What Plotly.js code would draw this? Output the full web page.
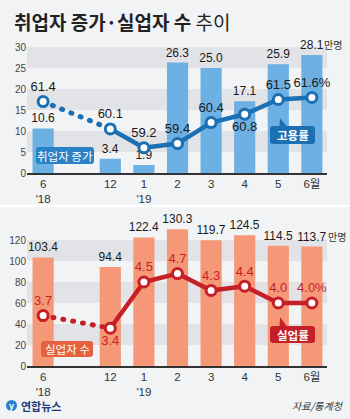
<!DOCTYPE html>
<html><head><meta charset="utf-8">
<script src="https://cdn.plot.ly/plotly-3.0.1.min.js"></script>
<style>
html,body{margin:0;padding:0;background:#f2f3f5;}
#chart{width:350px;height:419px;}
.scatterlayer .js-line{stroke-linecap:round;stroke-linejoin:round;}
</style>
</head><body>
<div id="chart"></div>
<script>
// ---- data ----
const xPos = [0, 2, 3, 4, 5, 6, 7, 8];
const tickLabels = ["6<br>'18", "12", "1<br>'19", "2", "3", "4", "5", "6월"];
const employedIncrease = [10.6, 3.4, 1.9, 26.3, 25.0, 17.1, 25.9, 28.1];   // 만명
const employmentRate = [61.4, 60.1, 59.2, 59.4, 60.4, 60.8, 61.5, 61.6];   // %
const unemployed = [103.4, 94.4, 122.4, 130.3, 119.7, 124.5, 114.5, 113.7]; // 만명
const unemploymentRate = [3.7, 3.4, 4.5, 4.7, 4.3, 4.4, 4.0, 4.0];         // %
const topTicks = [0, 5, 10, 15, 20, 25, 30];
const bottomTicks = [0, 20, 40, 60, 80, 100, 120];

const W = 350, H = 419;
const fx = v => v / W, fy = v => 1 - v / H;
const NUM = "Liberation Sans, Arial, Noto Sans CJK KR, sans-serif";
const KR = "Noto Sans CJK KR, sans-serif";

const BAR_BLUE = "#6db0e3", LINE_BLUE = "#1b6fb3", BOX_BLUE = "#2a82c6";
const BAR_ORANGE = "#f59877", LINE_RED = "#c71f28", BOX_ORANGE = "#e5613d", BOX_RED = "#c5202a";

const fmt = vals => vals.map(v => v.toFixed(1));
const barTextTop = fmt(employedIncrease);
const barTextBot = fmt(unemployed);
const rateTextTop = employmentRate.map((v, i) => v.toFixed(1) + (i === employmentRate.length - 1 ? "%" : ""));
const rateTextBot = unemploymentRate.map((v, i) => v.toFixed(1) + (i === unemploymentRate.length - 1 ? "%" : ""));
const last = xPos.length - 1;

const traces = [
  {type: "bar", x: xPos, y: employedIncrease, xaxis: "x", yaxis: "y", width: 0.63,
   marker: {color: BAR_BLUE}, text: barTextTop, textposition: "outside", cliponaxis: false,
   constraintext: "none", textfont: {family: NUM, size: 12, color: "#1a1a1a"}, hoverinfo: "skip"},
  {type: "scatter", mode: "lines", x: xPos.slice(0, 2), y: employmentRate.slice(0, 2), xaxis: "x", yaxis: "y2",
   line: {color: LINE_BLUE, width: 5, dash: "1px,9px"}, hoverinfo: "skip"},
  {type: "scatter", mode: "lines", x: xPos.slice(1), y: employmentRate.slice(1), xaxis: "x", yaxis: "y2",
   line: {color: LINE_BLUE, width: 4.5}, hoverinfo: "skip"},
  {type: "scatter", mode: "markers+text", x: xPos, y: employmentRate, xaxis: "x", yaxis: "y2",
   marker: {size: 10, color: "#ffffff", line: {color: LINE_BLUE, width: 3}},
   text: rateTextTop, cliponaxis: false,
   textposition: ["top center","top center","top center","top center","top center","bottom center","top center","top center"],
   textfont: {family: NUM, size: 13, color: "#1a1a1a"}, hoverinfo: "skip"},

  {type: "bar", x: xPos, y: unemployed, xaxis: "x2", yaxis: "y3", width: 0.63,
   marker: {color: BAR_ORANGE}, text: barTextBot, textposition: "outside", cliponaxis: false,
   constraintext: "none", textfont: {family: NUM, size: 12, color: "#1a1a1a"}, hoverinfo: "skip"},
  {type: "scatter", mode: "lines", x: xPos.slice(0, 2), y: unemploymentRate.slice(0, 2), xaxis: "x2", yaxis: "y4",
   line: {color: LINE_RED, width: 5, dash: "1px,9px"}, hoverinfo: "skip"},
  {type: "scatter", mode: "lines", x: xPos.slice(1), y: unemploymentRate.slice(1), xaxis: "x2", yaxis: "y4",
   line: {color: LINE_RED, width: 4.5}, hoverinfo: "skip"},
  {type: "scatter", mode: "markers+text", x: xPos, y: unemploymentRate, xaxis: "x2", yaxis: "y4",
   marker: {size: 10, color: "#ffffff", line: {color: LINE_RED, width: 3}},
   text: rateTextBot, cliponaxis: false,
   textposition: ["top center","bottom center","top center","top center","top center","top center","top center","top center"],
   textfont: {family: NUM, size: 13, color: LINE_RED}, hoverinfo: "skip"}
];

// ---- layout helpers (pixel -> paper) ----
function rr(x0, y0, x1, y1, r) {
  const X = v => fx(v).toFixed(5), Y = v => fy(v).toFixed(5);
  return `M${X(x0 + r)},${Y(y0)} L${X(x1 - r)},${Y(y0)} Q${X(x1)},${Y(y0)} ${X(x1)},${Y(y0 + r)} ` +
         `L${X(x1)},${Y(y1 - r)} Q${X(x1)},${Y(y1)} ${X(x1 - r)},${Y(y1)} L${X(x0 + r)},${Y(y1)} ` +
         `Q${X(x0)},${Y(y1)} ${X(x0)},${Y(y1 - r)} L${X(x0)},${Y(y0 + r)} Q${X(x0)},${Y(y0)} ${X(x0 + r)},${Y(y0)} Z`;
}
function tri(pts) {
  return "M" + pts.map(p => fx(p[0]).toFixed(5) + "," + fy(p[1]).toFixed(5)).join(" L") + " Z";
}

const shapes = [];
// bands
[[5, 10], [15, 20], [25, 30]].forEach(b => shapes.push({type: "rect", xref: "paper", yref: "y",
  x0: fx(27), x1: fx(327), y0: b[0], y1: b[1], fillcolor: "#e2e3e6", line: {width: 0}, layer: "below"}));
[[20, 40], [60, 80], [100, 120]].forEach(b => shapes.push({type: "rect", xref: "paper", yref: "y3",
  x0: fx(27), x1: fx(327), y0: b[0], y1: b[1], fillcolor: "#e2e3e6", line: {width: 0}, layer: "below"}));
// separator
shapes.push({type: "line", xref: "paper", yref: "paper", x0: 0, x1: 1, y0: fy(206), y1: fy(206),
  line: {color: "#ffffff", width: 2.5}});
// legend boxes
shapes.push({type: "path", xref: "paper", yref: "paper", path: rr(36, 147, 94, 164, 3), fillcolor: BOX_BLUE, line: {width: 0}});
shapes.push({type: "path", xref: "paper", yref: "paper", path: rr(270, 126, 315, 144, 3), fillcolor: LINE_BLUE, line: {width: 0}});
shapes.push({type: "path", xref: "paper", yref: "paper", path: tri([[279.5, 126.5], [287, 126.5], [280, 118]]), fillcolor: LINE_BLUE, line: {width: 0}});
shapes.push({type: "path", xref: "paper", yref: "paper", path: rr(41, 341, 93, 357, 3), fillcolor: BOX_ORANGE, line: {width: 0}});
shapes.push({type: "path", xref: "paper", yref: "paper", path: rr(270, 326, 315, 343, 3), fillcolor: BOX_RED, line: {width: 0}});
shapes.push({type: "path", xref: "paper", yref: "paper", path: tri([[279.5, 326.5], [287, 326.5], [280, 317]]), fillcolor: BOX_RED, line: {width: 0}});
// logo circle
shapes.push({type: "circle", xref: "paper", yref: "paper", x0: fx(6), x1: fx(17), y0: fy(400), y1: fy(411),
  fillcolor: "#2a7fd0", line: {width: 0}});

const ann = (x, y, text, font, xanchor) => ({xref: "paper", yref: "paper", x: fx(x), y: fy(y), text: text,
  showarrow: false, xanchor: xanchor || "center", yanchor: "middle", font: font});

const annotations = [
  ann(12, 22, "<b>취업자 증가·실업자 수</b> 추이", {family: KR, size: 19, color: "#222"}, "left"),
  ann(65, 155.5, "취업자 증가", {family: KR, size: 11.5, color: "#ffffff"}),
  ann(292.5, 135, "<b>고용률</b>", {family: KR, size: 11.5, color: "#ffffff"}),
  ann(67, 349, "실업자 수", {family: KR, size: 11.5, color: "#ffffff"}),
  ann(292.5, 334.5, "<b>실업률</b>", {family: KR, size: 11.5, color: "#ffffff"}),
  ann(11.5, 405.5, "<b>y</b>", {family: NUM, size: 9, color: "#ffffff"}),
  ann(19, 405.5, "<b>연합뉴스</b>", {family: KR, size: 11, color: "#1b3a78"}, "left"),
  ann(346, 405, "<i>자료/통계청</i>", {family: KR, size: 10, color: "#333"}, "right"),
  // unit next to the last bar value
  {xref: "x", yref: "y", x: xPos[last], y: employedIncrease[last], text: "만명", showarrow: false,
   xanchor: "left", yanchor: "bottom", xshift: 11.5, yshift: 2, borderpad: 0,
   font: {family: KR, size: 10, color: "#333"}},
  {xref: "x2", yref: "y3", x: xPos[last], y: unemployed[last], text: "만명", showarrow: false,
   xanchor: "left", yanchor: "bottom", xshift: 15, yshift: 2, borderpad: 0,
   font: {family: KR, size: 10, color: "#333"}}
];

const xDom = [fx(27), fx(327)];
const xCommon = {domain: xDom, range: [-0.48, 8.45], tickvals: xPos, ticktext: tickLabels, showgrid: false,
  zeroline: false, showline: true, linecolor: "#333", linewidth: 1.5, ticks: "",
  tickfont: {family: NUM, size: 11.5, color: "#333"}, fixedrange: true};
const yCommon = {showgrid: false, zeroline: false, showline: false, ticks: "",
  tickfont: {family: NUM, size: 10, color: "#444"}, fixedrange: true};

const layout = {
  width: W, height: H, margin: {l: 0, r: 0, t: 0, b: 0},
  paper_bgcolor: "#f2f3f5", plot_bgcolor: "rgba(0,0,0,0)", showlegend: false,
  xaxis: Object.assign({}, xCommon, {anchor: "y"}),
  xaxis2: Object.assign({}, xCommon, {anchor: "y3"}),
  yaxis: Object.assign({}, yCommon, {domain: [fy(173), fy(38.6)], range: [0, 32], tickvals: topTicks, anchor: "x"}),
  yaxis2: {overlaying: "y", range: [58, 64.4], visible: false, anchor: "x", fixedrange: true},
  yaxis3: Object.assign({}, yCommon, {domain: [fy(366), fy(227.4)], range: [0, 132], tickvals: bottomTicks, anchor: "x2"}),
  yaxis4: {overlaying: "y3", range: [2.5, 5.8], visible: false, anchor: "x2", fixedrange: true},
  shapes: shapes, annotations: annotations
};

Plotly.newPlot("chart", traces, layout, {staticPlot: true, displayModeBar: false});
</script>
</body></html>
